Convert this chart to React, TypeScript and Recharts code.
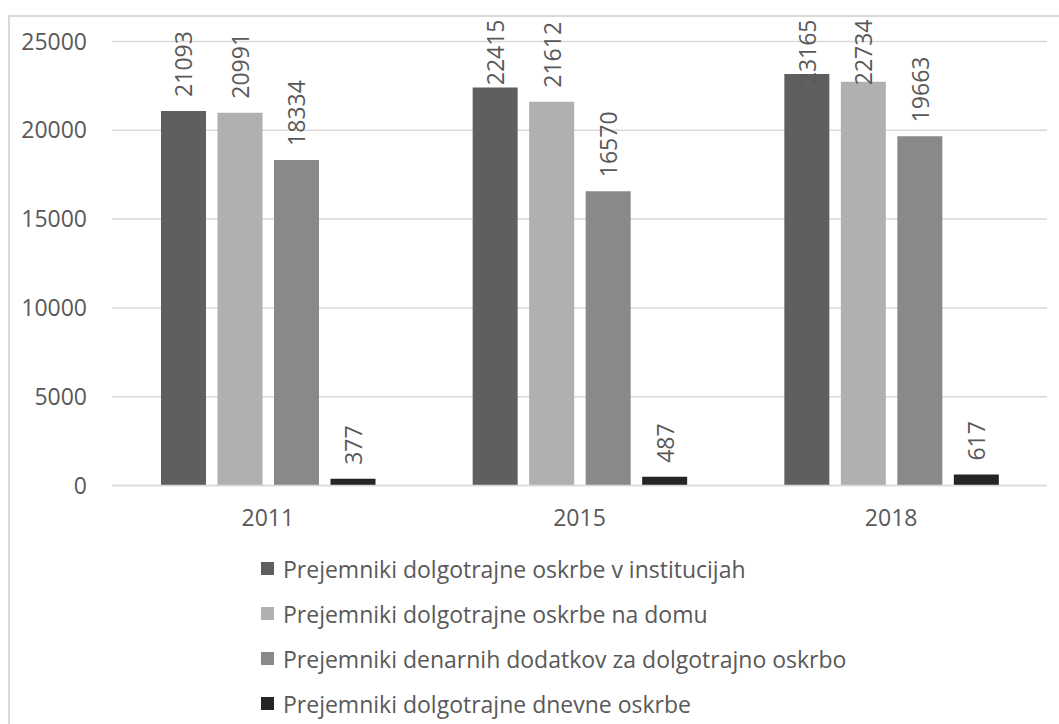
import React from "react"
import {
  BarChart,
  Bar,
  XAxis,
  YAxis,
  CartesianGrid,
  Legend,
  LabelList,
} from "recharts"

const YEARS = ["2011", "2015", "2018"]
const INSTITUCIJE = [21093, 22415, 23165]
const NA_DOMU = [20991, 21612, 22734]
const DENARNI_DODATKI = [18334, 16570, 19663]
const DNEVNA_OSKRBA = [377, 487, 617]
const Y_TICKS = [0, 5000, 10000, 15000, 20000, 25000]

const SERIES = [
  { key: "institucije", name: "Prejemniki dolgotrajne oskrbe v institucijah", color: "#5f5f5f" },
  { key: "doma", name: "Prejemniki dolgotrajne oskrbe na domu", color: "#b0b0b0" },
  { key: "dodatki", name: "Prejemniki denarnih dodatkov za dolgotrajno oskrbo", color: "#898989" },
  { key: "dnevna", name: "Prejemniki dolgotrajne dnevne oskrbe", color: "#252525" },
]

const data = YEARS.map((year, i) => ({
  year,
  institucije: INSTITUCIJE[i],
  doma: NA_DOMU[i],
  dodatki: DENARNI_DODATKI[i],
  dnevna: DNEVNA_OSKRBA[i],
}))

const FONT = "'Open Sans', sans-serif"
const TEXT = "#595959"
const GRID = "#d9d9d9"
const AXIS_SIZE = 23
const LABEL_SIZE = 23
const LABEL_GAP = 14
const LABEL_TOP_LIMIT = 22

// vertical value label above each bar, kept inside the chart frame
function RotatedLabel(props: any) {
  const { x, y, width, value } = props
  const text = String(value)
  const len = text.length * 0.55 * LABEL_SIZE
  let start = y - LABEL_GAP
  if (start - len < LABEL_TOP_LIMIT) start = LABEL_TOP_LIMIT + len
  const cx = x + width / 2
  return (
    <text
      x={cx}
      y={start}
      transform={`rotate(-90 ${cx} ${start})`}
      textAnchor="start"
      dominantBaseline="central"
      fill={TEXT}
      fontSize={LABEL_SIZE}
      fontFamily={FONT}
    >
      {text}
    </text>
  )
}

function LegendBox() {
  return (
    <div style={{ height: 180, fontFamily: FONT, fontSize: 23, color: TEXT }}>
      {SERIES.map((s) => (
        <div key={s.key} style={{ height: 45, display: "flex", alignItems: "center" }}>
          <span style={{ width: 13, height: 13, background: s.color, marginRight: 9, display: "inline-block" }} />
          <span style={{ whiteSpace: "nowrap" }}>{s.name}</span>
        </div>
      ))}
    </div>
  )
}

export default function App() {
  return (
    <div style={{ position: "absolute", left: 0, top: 0, width: 1059, height: 724, overflow: "hidden", background: "#fff" }}>
      <div
        style={{
          position: "absolute",
          left: 8,
          top: 15,
          width: 1100,
          height: 800,
          border: `2px solid ${GRID}`,
        }}
      />
      <div style={{ position: "absolute", left: 0, top: 0 }}>
        <BarChart
          width={1059}
          height={724}
          data={data}
          margin={{ top: 41.5, right: 12, left: 0, bottom: 8.5 }}
          barSize={45}
          barGap={11.5}
        >
          <CartesianGrid vertical={false} stroke={GRID} strokeWidth={1.5} />
          <XAxis
            dataKey="year"
            height={50}
            tickSize={0}
            tickMargin={24}
            axisLine={{ stroke: GRID, strokeWidth: 1.5 }}
            tick={{ fill: TEXT, fontSize: AXIS_SIZE, fontFamily: FONT }}
          />
          <YAxis
            width={112}
            domain={[0, 25000]}
            ticks={Y_TICKS}
            interval={0}
            tickSize={0}
            tickMargin={25}
            axisLine={false}
            tick={{ fill: TEXT, fontSize: AXIS_SIZE, fontFamily: FONT }}
          />
          <Legend
            verticalAlign="bottom"
            height={180}
            wrapperStyle={{ left: 261, top: 546, width: 790 }}
            content={() => <LegendBox />}
          />
          {SERIES.map((s) => (
            <Bar key={s.key} dataKey={s.key} name={s.name} fill={s.color} isAnimationActive={false}>
              <LabelList dataKey={s.key} content={RotatedLabel} />
            </Bar>
          ))}
        </BarChart>
      </div>
    </div>
  )
}
